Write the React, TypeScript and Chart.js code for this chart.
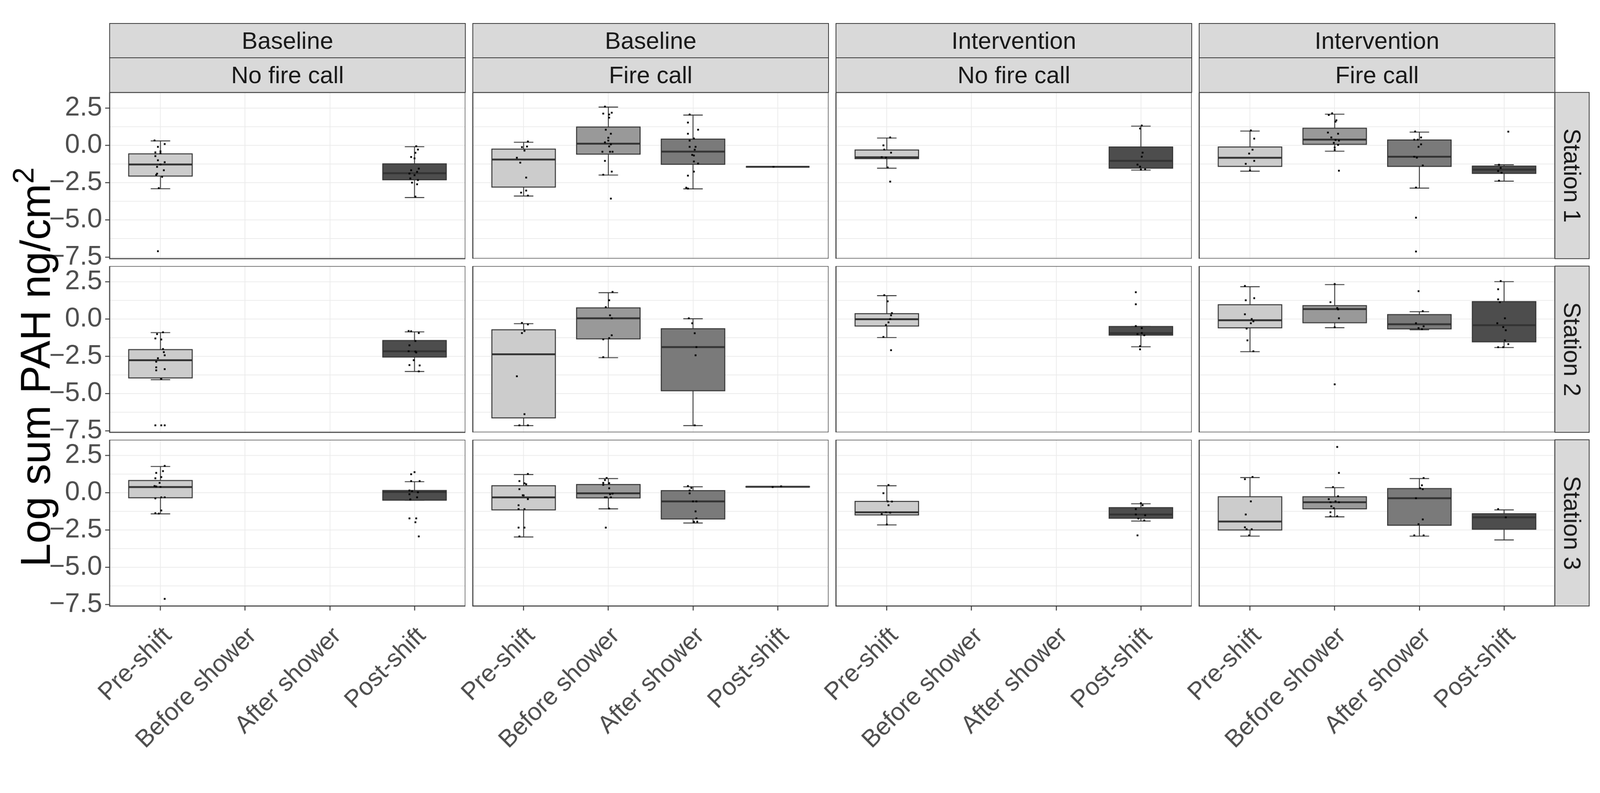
import React, { useEffect, useRef } from "react";
import { Chart, registerables } from "chart.js";

Chart.register(...registerables);

type Box = number[] | null;
type Pts = number[][] | null;

// ---------------- data ----------------
const categories = ["Pre-shift", "Before shower", "After shower", "Post-shift"];
const phaseStrip = ["Baseline", "Baseline", "Intervention", "Intervention"];
const callStrip = ["No fire call", "Fire call", "No fire call", "Fire call"];
const stationStrip = ["Station 1", "Station 2", "Station 3"];
const yTickValues = [-7.5, -5, -2.5, 0, 2.5];
const yTickLabels = ["\u22127.5", "\u22125.0", "\u22122.5", "0.0", "2.5"];
const yMinorValues = [-6.25, -3.75, -1.25, 1.25];
const yLimits = [-7.6, 3.55];

// box stats per panel column: [lower whisker, Q1, median, Q3, upper whisker] for each category
const station1Boxes: Box[][] = [
  [[-2.91, -2.06, -1.28, -0.57, 0.3], null, null, [-3.5, -2.31, -1.87, -1.24, -0.09]],
  [[-3.4, -2.8, -0.95, -0.25, 0.21], [-1.99, -0.59, 0.11, 1.23, 2.57], [-2.92, -1.27, -0.42, 0.42, 2.03], [-1.44, -1.44, -1.44, -1.44, -1.44]],
  [[-1.53, -0.89, -0.8, -0.31, 0.49], null, null, [-1.66, -1.53, -1.04, -0.11, 1.29]],
  [[-1.73, -1.41, -0.83, -0.11, 0.96], [-0.39, 0.07, 0.39, 1.15, 2.09], [-2.87, -1.41, -0.76, 0.36, 0.89], [-2.4, -1.88, -1.63, -1.39, -1.3]],
];
const station2Boxes: Box[][] = [
  [[-4.07, -3.95, -2.76, -2.05, -0.91], null, null, [-3.52, -2.55, -2.16, -1.44, -0.86]],
  [[-7.15, -6.63, -2.36, -0.72, -0.31], [-2.59, -1.33, 0.05, 0.75, 1.77], [-7.15, -4.81, -1.88, -0.65, 0.02], null],
  [[-1.24, -0.47, -0.01, 0.36, 1.57], null, null, [-1.86, -1.08, -0.95, -0.5, -0.5]],
  [[-2.19, -0.59, -0.08, 0.96, 2.17], [-0.58, -0.25, 0.67, 0.9, 2.31], [-0.72, -0.66, -0.35, 0.3, 0.49], [-1.91, -1.53, -0.41, 1.17, 2.51]],
];
const station3Boxes: Box[][] = [
  [[-1.42, -0.34, 0.38, 0.82, 1.76], null, null, [-0.5, -0.5, 0.05, 0.15, 0.74]],
  [[-2.97, -1.15, -0.31, 0.47, 1.22], [-1.08, -0.35, -0.04, 0.55, 0.95], [-2.03, -1.76, -0.58, 0.14, 0.4], [0.38, 0.38, 0.4, 0.42, 0.42]],
  [[-2.16, -1.49, -1.31, -0.58, 0.47], null, null, [-1.9, -1.71, -1.46, -1.0, -0.74]],
  [[-2.91, -2.5, -1.93, -0.27, 1.02], [-1.62, -1.08, -0.64, -0.27, 0.34], [-2.91, -2.18, -0.37, 0.28, 0.95], [-3.17, -2.45, -1.65, -1.41, -1.15]],
];

// jittered observations: [horizontal jitter (category units), value]
const station1Points: Pts[][] = [
  [
    [[-0.07, 0.33], [0.05, 0.09], [-0.03, -0.1], [0, -0.4], [-0.06, -0.47], [0, -0.53], [-0.06, -0.72], [-0.03, -1.0], [0.05, -1.13], [0, -1.28], [-0.04, -1.44], [0.04, -1.67], [-0.04, -1.9], [-0.05, -1.98], [0.02, -2.11], [-0.02, -2.87], [-0.03, -7.1]],
    null,
    null,
    [[0.02, -0.06], [0.04, -0.28], [0.01, -0.5], [-0.04, -0.78], [0, -0.87], [0.05, -1.56], [-0.04, -1.67], [0.03, -1.78], [-0.06, -1.89], [0, -2.0], [-0.05, -2.22], [0.04, -2.33], [-0.03, -2.5], [0.03, -2.61], [0.01, -3.44]],
  ],
  [
    [[0.05, 0.26], [-0.02, -0.12], [0.04, -0.08], [0.01, -0.35], [-0.08, -0.83], [-0.04, -1.16], [0.03, -2.16], [0.03, -3.03], [-0.03, -3.17], [0.05, -3.37]],
    [[-0.04, 2.6], [0.04, 2.19], [-0.06, 2.13], [0.01, 2.07], [0.01, 1.86], [-0.03, 1.05], [0.03, 0.78], [0, 0.51], [0, 0.32], [-0.04, 0.2], [0.03, 0.07], [0.01, -0.07], [-0.07, -0.43], [0.02, -0.43], [0.05, -0.43], [-0.04, -1.04], [0.04, -1.76], [-0.06, -1.97], [0.03, -3.57]],
    [[-0.04, 2.07], [-0.06, 1.53], [0.06, 1.05], [-0.06, 0.78], [0.01, 0.46], [-0.04, 0.32], [-0.04, -0.1], [0.03, -0.1], [0.02, -0.29], [-0.01, -0.64], [0.01, -0.68], [0.01, -1.08], [0.06, -1.22], [0.01, -1.76], [-0.06, -2.03], [-0.08, -2.84], [-0.06, -2.9]],
    [[-0.05, -1.44]],
  ],
  [
    [[0.04, 0.53], [-0.04, 0.0], [-0.03, -0.28], [0.05, -0.49], [-0.06, -0.79], [-0.01, -0.82], [0.01, -1.48], [0.04, -2.43]],
    null,
    null,
    [[0.01, 1.33], [-0.01, 1.13], [0.02, -0.49], [0.01, -0.76], [-0.04, -1.29], [-0.01, -1.43], [0.05, -1.61], [0, -1.63]],
  ],
  [
    [[0.01, 1.0], [0.05, 0.45], [0.03, -0.29], [-0.01, -0.55], [0.05, -1.04], [-0.05, -1.24], [0, -1.68]],
    [[-0.03, 2.15], [-0.07, 2.04], [0.02, 1.68], [0.01, 1.59], [-0.08, 0.86], [0.04, 0.78], [-0.04, 0.53], [0.01, 0.36], [0.05, 0.32], [-0.01, 0.17], [0.04, 0.03], [0, -0.14], [0, -0.3], [0.05, -1.7]],
    [[-0.05, 0.93], [0.02, 0.53], [-0.06, 0.38], [-0.02, 0.38], [0.02, 0.07], [-0.01, -0.1], [-0.06, -0.76], [-0.03, -0.82], [0.04, -1.35], [-0.04, -2.83], [-0.04, -4.85], [-0.04, -7.12]],
    [[0.05, 0.92], [-0.06, -1.3], [-0.04, -1.51], [-0.07, -1.72], [-0.03, -1.84], [-0.06, -2.37]],
  ],
];
const station2Points: Pts[][] = [
  [
    [[0.03, -0.89], [-0.04, -1.01], [-0.06, -1.3], [0.01, -1.37], [0.03, -2.01], [0.04, -2.22], [0.05, -2.43], [-0.03, -2.63], [-0.05, -2.86], [-0.05, -3.24], [0.05, -3.36], [-0.05, -3.44], [0.01, -4.01], [-0.06, -7.13], [0.01, -7.13], [0.05, -7.13]],
    null,
    null,
    [[-0.07, -0.8], [-0.04, -0.82], [0.05, -0.94], [0.01, -1.47], [-0.06, -1.76], [-0.07, -2.16], [0.01, -2.18], [0.02, -2.24], [-0.01, -2.76], [-0.06, -3.09], [0.06, -3.11], [0.05, -3.51]],
  ],
  [
    [[-0.02, -0.26], [0.05, -0.36], [0.01, -0.8], [-0.02, -0.94], [-0.08, -3.84], [0.01, -6.38], [-0.05, -7.13], [0.05, -7.13]],
    [[0.05, 1.82], [0.01, 1.26], [-0.03, 0.8], [0.02, 0.25], [0.04, 0.05], [0.04, -1.09], [0.01, -1.28], [-0.06, -1.36], [-0.06, -2.56]],
    [[-0.05, 0.05], [-0.01, -0.28], [0.02, -0.95], [0.04, -1.88], [0.03, -2.43], [0.02, -7.13]],
    null,
  ],
  [
    [[-0.03, 1.6], [0.01, 1.19], [0.06, 0.4], [0.05, 0.25], [0.04, 0.0], [0.02, -0.22], [-0.01, -0.4], [-0.04, -1.2], [0.05, -2.09]],
    null,
    null,
    [[-0.06, 1.8], [-0.06, 0.99], [-0.06, -0.47], [0.01, -0.61], [0.01, -0.94], [-0.04, -1.01], [0.04, -1.09], [-0.01, -1.82], [-0.01, -2.03]],
  ],
  [
    [[-0.06, 2.22], [0.05, 1.4], [-0.05, 1.26], [-0.06, 0.32], [0.02, 0.0], [0.04, -0.15], [0.01, -0.28], [-0.04, -0.64], [-0.03, -1.43], [0.04, -2.16]],
    [[0, 2.35], [-0.05, 1.13], [0.03, 0.74], [0.04, 0.65], [0.05, 0.05], [0, -0.55], [0, -4.38]],
    [[-0.01, 1.87], [0.04, 0.53], [-0.04, -0.28], [0.05, -0.49], [-0.01, -0.61], [0.03, -0.68]],
    [[-0.04, 2.55], [-0.07, 2.0], [-0.07, 1.32], [-0.05, 1.13], [0.01, 0.05], [-0.08, -0.28], [-0.01, -0.54], [0.02, -0.75], [0.01, -1.43], [0.05, -1.68], [-0.07, -1.89], [-0.01, -1.89]],
  ],
];
const station3Points: Pts[][] = [
  [
    [[0.05, 1.8], [0.03, 1.45], [-0.05, 1.33], [0.01, 1.05], [-0.06, 0.97], [-0.01, 0.66], [-0.07, 0.45], [-0.05, 0.42], [0, 0.39], [0.01, -0.31], [0.05, -0.31], [-0.06, -0.38], [0.01, -1.19], [-0.06, -1.37], [-0.02, -1.4], [0.05, -7.12]],
    null,
    null,
    [[0, 1.38], [-0.04, 1.24], [-0.04, 0.78], [0.06, 0.78], [-0.06, 0.15], [-0.03, 0.11], [0.04, 0.03], [-0.06, -0.1], [0.03, -0.31], [-0.05, -0.45], [-0.06, -1.72], [0.02, -1.72], [0.01, -1.98], [0.05, -2.93]],
  ],
  [
    [[0.05, 1.26], [-0.05, 0.78], [0.01, 0.63], [0.03, 0.57], [-0.05, 0.24], [-0.01, -0.17], [0, -0.18], [0.05, -0.43], [-0.06, -0.84], [-0.06, -1.1], [0.01, -1.1], [-0.06, -2.34], [0.01, -2.34], [-0.05, -2.93]],
    [[-0.02, 0.99], [-0.04, 0.85], [-0.06, 0.66], [0.01, 0.64], [-0.06, 0.53], [0.01, 0.3], [0.05, -0.06], [0.02, -0.1], [-0.04, -0.31], [-0.02, -0.31], [0.03, -0.31], [0.01, -1.06], [-0.03, -2.34]],
    [[-0.06, 0.45], [-0.02, 0.32], [-0.04, 0.15], [-0.04, -0.04], [0, -0.58], [0.04, -0.58], [0.03, -1.25], [0.04, -1.72], [0.01, -1.94], [0.05, -1.94], [0.01, -1.98]],
    [[-0.06, 0.38], [0.04, 0.43]],
  ],
  [
    [[0.02, 0.52], [-0.04, -0.03], [0.01, -0.58], [0.06, -0.59], [0.02, -0.84], [-0.01, -1.31], [0.04, -1.34], [-0.06, -1.44], [0, -2.13]],
    null,
    null,
    [[0, -0.7], [0.02, -0.84], [-0.06, -1.1], [-0.06, -1.46], [0.05, -1.51], [-0.03, -1.73], [0.04, -1.86], [-0.04, -2.86]],
  ],
  [
    [[0.03, 1.06], [-0.06, 0.91], [0.01, -0.58], [-0.05, -1.46], [-0.06, -2.32], [-0.04, -2.45], [0.02, -2.45], [-0.01, -2.86]],
    [[0.03, 3.07], [0.05, 1.33], [-0.02, 0.38], [0.04, -0.24], [-0.07, -0.43], [0.01, -0.58], [-0.05, -0.64], [0.05, -0.64], [-0.04, -0.91], [-0.01, -1.04], [-0.05, -1.31], [-0.05, -1.58], [0.03, -1.58]],
    [[0.05, 0.99], [0.03, 0.5], [0.01, 0.3], [0.04, 0.24], [-0.04, -0.37], [0.04, -1.79], [-0.01, -2.11], [-0.06, -2.86], [0.05, -2.86]],
    [[-0.07, -1.1], [0.02, -1.65]],
  ],
];

const stationBoxes = [station1Boxes, station2Boxes, station3Boxes];
const stationPoints = [station1Points, station2Points, station3Points];

// ---------------- layout & style ----------------
const FONT = "'Liberation Sans', Arial, Helvetica, sans-serif";
const PAGE_W = 4291;
const PAGE_H = 2031;
const COL_LEFT = [294, 1268, 2242, 3216];
const ROW_TOP = [248, 714, 1180];
const PANEL_W = 954;
const PANEL_H = 446;
const STRIP_TOP = 62;
const STRIP_H = 93;
const SIDE_STRIP_W = 92;
const LEFT_PAD = 200;
const LABEL_OVERHANG = 60;
const BW = 2.7;
const FILLS = ["#CCCCCC", "#999999", "#7A7A7A", "#4D4D4D"];
const BOX_HALF = 0.375;
const CAP_HALF = 0.115;
const Y_AXIS_FONT = 72;
const X_AXIS_FONT = 66;
const STRIP_FONT = 64;
const TITLE_FONT = 113;
const TITLE_CENTER_Y = 985;

const boxPlugin = {
  id: "boxes",
  beforeDatasetsDraw(chart: any, _args: any, opts: any) {
    const boxes: Box[] = opts.boxes || [];
    const ctx = chart.ctx;
    const x = chart.scales.x;
    const y = chart.scales.y;
    ctx.save();
    boxes.forEach((b, i) => {
      if (!b) return;
      const c = i + 1;
      const cx = x.getPixelForValue(c);
      const l = x.getPixelForValue(c - BOX_HALF);
      const r = x.getPixelForValue(c + BOX_HALF);
      const cl = x.getPixelForValue(c - CAP_HALF);
      const cr = x.getPixelForValue(c + CAP_HALF);
      const [lo, q1, md, q3, hi] = b.map((v) => y.getPixelForValue(v));
      ctx.strokeStyle = "#333333";
      ctx.lineCap = "butt";
      ctx.lineWidth = 2.4;
      ctx.beginPath();
      ctx.moveTo(cx, hi);
      ctx.lineTo(cx, q3);
      ctx.moveTo(cx, q1);
      ctx.lineTo(cx, lo);
      ctx.moveTo(cl, hi);
      ctx.lineTo(cr, hi);
      ctx.moveTo(cl, lo);
      ctx.lineTo(cr, lo);
      ctx.stroke();
      ctx.fillStyle = FILLS[i];
      ctx.fillRect(l, q3, r - l, q1 - q3);
      ctx.lineWidth = 2.6;
      ctx.strokeRect(l, q3, r - l, q1 - q3);
      ctx.lineWidth = 5;
      ctx.beginPath();
      ctx.moveTo(l, md);
      ctx.lineTo(r, md);
      ctx.stroke();
    });
    ctx.restore();
  },
  afterDraw(chart: any) {
    const ctx = chart.ctx;
    const a = chart.chartArea;
    ctx.save();
    ctx.strokeStyle = "#333333";
    ctx.lineWidth = BW;
    ctx.strokeRect(a.left, a.top, a.right - a.left, a.bottom - a.top);
    ctx.restore();
  },
};

function canvasGeom(r: number, c: number) {
  const leftPad = c === 0 ? COL_LEFT[0] : LEFT_PAD;
  const bottomPad = r === 2 ? PAGE_H - ROW_TOP[2] - PANEL_H : c === 0 ? LABEL_OVERHANG : 0;
  return {
    left: COL_LEFT[c] - leftPad,
    top: ROW_TOP[r],
    width: leftPad + PANEL_W,
    height: PANEL_H + bottomPad,
    leftPad,
    bottomPad,
  };
}

function makeConfig(r: number, c: number): any {
  const g = canvasGeom(r, c);
  const boxes = stationBoxes[r][c];
  const pts = stationPoints[r][c];
  const data: { x: number; y: number }[] = [];
  pts.forEach((grp, i) => {
    if (!grp) return;
    grp.forEach(([dx, v]) => data.push({ x: i + 1 + dx, y: v }));
  });
  const showX = r === 2;
  const showY = c === 0;
  return {
    type: "scatter",
    data: {
      datasets: [
        {
          data,
          pointStyle: "rect",
          radius: 3.4,
          backgroundColor: "#000000",
          borderWidth: 0,
          clip: false,
        },
      ],
    },
    options: {
      animation: false,
      responsive: false,
      events: [],
      layout: { padding: 0, autoPadding: false },
      plugins: {
        legend: { display: false },
        tooltip: { enabled: false },
        boxes: { boxes },
      },
      scales: {
        x: {
          type: "linear",
          min: 0.4,
          max: 4.6,
          afterBuildTicks: (s: any) => {
            s.ticks = categories.map((_, i) => ({ value: i + 1 }));
          },
          ticks: showX
            ? {
                display: true,
                autoSkip: false,
                minRotation: 45,
                maxRotation: 45,
                padding: 30,
                labelOffset: 20,
                color: "#4D4D4D",
                font: { family: FONT, size: X_AXIS_FONT },
                callback: (v: number) => categories[Math.round(v) - 1],
              }
            : { display: false },
          grid: {
            color: "#EBEBEB",
            lineWidth: 2,
            drawTicks: showX,
            tickLength: 12,
            tickColor: "#333333",
            tickWidth: 2.5,
          },
          border: { display: false },
          afterFit: (s: any) => {
            s.height = g.bottomPad;
            s.paddingLeft = 0;
            s.paddingRight = 0;
          },
        },
        y: {
          type: "linear",
          min: yLimits[0],
          max: yLimits[1],
          afterBuildTicks: (s: any) => {
            s.ticks = [...yTickValues, ...yMinorValues]
              .sort((a, b) => a - b)
              .map((v) => ({ value: v }));
          },
          ticks: showY
            ? {
                display: true,
                autoSkip: false,
                padding: 8,
                color: "#4D4D4D",
                font: { family: FONT, size: Y_AXIS_FONT },
                callback: (v: number) => {
                  const k = yTickValues.indexOf(v);
                  return k >= 0 ? yTickLabels[k] : "";
                },
              }
            : { display: false },
          grid: {
            color: "#EBEBEB",
            lineWidth: 2,
            drawTicks: showY,
            tickLength: 12,
            tickColor: (ctx: any) =>
              ctx.tick && yTickValues.includes(ctx.tick.value) ? "#333333" : "rgba(0,0,0,0)",
            tickWidth: 2.5,
          },
          border: { display: false },
          afterFit: (s: any) => {
            s.width = g.leftPad;
            s.paddingTop = 0;
            s.paddingBottom = 0;
          },
        },
      },
    },
    plugins: [boxPlugin],
  };
}

const stripBase: React.CSSProperties = {
  position: "absolute",
  boxSizing: "border-box",
  background: "#D9D9D9",
  border: `${BW}px solid #333333`,
  color: "#1A1A1A",
  fontFamily: FONT,
  fontSize: STRIP_FONT,
  display: "flex",
  alignItems: "center",
  justifyContent: "center",
  whiteSpace: "nowrap",
  lineHeight: 1,
};

export default function App() {
  const refs = useRef<(HTMLCanvasElement | null)[]>([]);

  useEffect(() => {
    const charts: Chart[] = [];
    for (let r = 0; r < 3; r++) {
      for (let c = 0; c < 4; c++) {
        const cv = refs.current[r * 4 + c];
        if (cv) charts.push(new Chart(cv, makeConfig(r, c)));
      }
    }
    return () => charts.forEach((ch) => ch.destroy());
  }, []);

  const fit =
    typeof window !== "undefined"
      ? Math.min(window.innerWidth / PAGE_W, window.innerHeight / PAGE_H)
      : 1;

  const canvases: React.ReactNode[] = [];
  for (let r = 0; r < 3; r++) {
    for (let c = 0; c < 4; c++) {
      const g = canvasGeom(r, c);
      canvases.push(
        <canvas
          key={`cv-${r}-${c}`}
          ref={(el) => {
            refs.current[r * 4 + c] = el;
          }}
          width={g.width}
          height={g.height}
          style={{ position: "absolute", left: g.left, top: g.top, width: g.width, height: g.height }}
        />
      );
    }
  }

  const strips: React.ReactNode[] = [];
  for (let c = 0; c < 4; c++) {
    strips.push(
      <div
        key={`s1-${c}`}
        style={{
          ...stripBase,
          left: COL_LEFT[c] - BW / 2,
          top: STRIP_TOP,
          width: PANEL_W + BW,
          height: STRIP_H + BW / 2,
        }}
      >
        {phaseStrip[c]}
      </div>
    );
    strips.push(
      <div
        key={`s2-${c}`}
        style={{
          ...stripBase,
          left: COL_LEFT[c] - BW / 2,
          top: STRIP_TOP + STRIP_H - BW / 2,
          width: PANEL_W + BW,
          height: ROW_TOP[0] - (STRIP_TOP + STRIP_H) + BW,
        }}
      >
        {callStrip[c]}
      </div>
    );
  }
  for (let r = 0; r < 3; r++) {
    strips.push(
      <div
        key={`sr-${r}`}
        style={{
          ...stripBase,
          left: COL_LEFT[3] + PANEL_W - BW / 2,
          top: ROW_TOP[r] - BW / 2,
          width: SIDE_STRIP_W + BW,
          height: PANEL_H + BW,
        }}
      >
        <span style={{ display: "inline-block", transform: "rotate(90deg)" }}>{stationStrip[r]}</span>
      </div>
    );
  }

  return (
    <div
      style={{
        position: "fixed",
        left: 0,
        top: 0,
        width: PAGE_W,
        height: PAGE_H,
        background: "#FFFFFF",
        overflow: "hidden",
        transform: `scale(${fit})`,
        transformOrigin: "0 0",
      }}
    >
      {canvases}
      {strips}
      <div
        style={{
          position: "absolute",
          left: 95,
          top: TITLE_CENTER_Y,
          transform: "translate(-50%, -50%) rotate(-90deg)",
          fontFamily: FONT,
          fontSize: TITLE_FONT,
          color: "#000000",
          whiteSpace: "nowrap",
          lineHeight: 1,
        }}
      >
        Log sum PAH ng/cm<sup style={{ fontSize: "0.7em", verticalAlign: "0.55em", lineHeight: 0 }}>2</sup>
      </div>
    </div>
  );
}
